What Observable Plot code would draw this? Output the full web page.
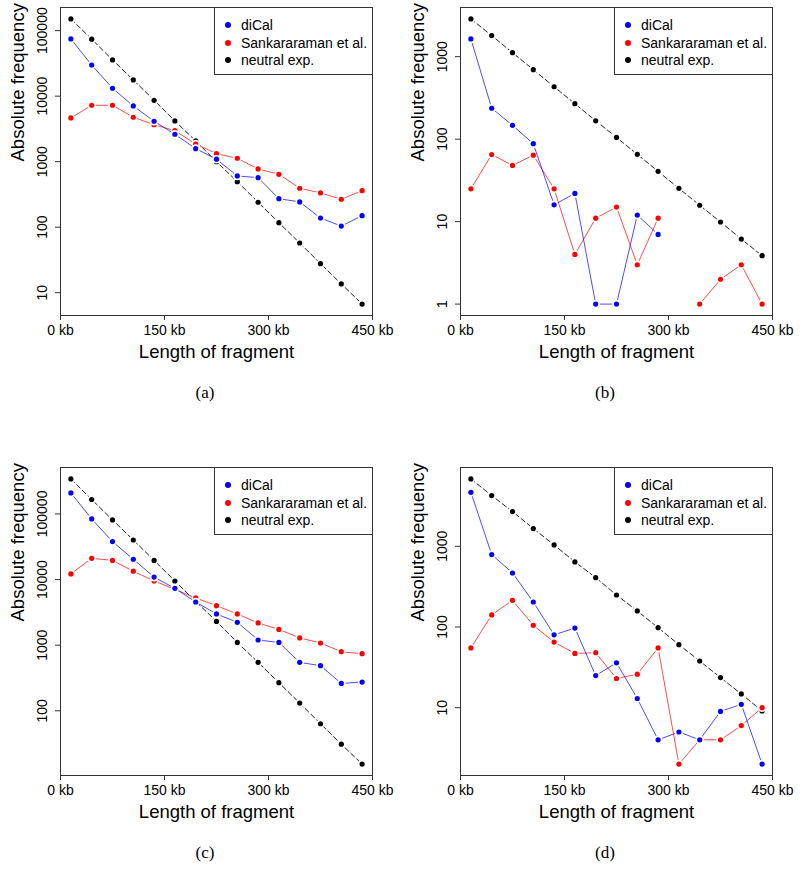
<!DOCTYPE html>
<html>
<head>
<meta charset="utf-8">
<script src="https://cdn.jsdelivr.net/npm/d3@7"></script>
<script src="https://cdn.jsdelivr.net/npm/@observablehq/plot@0.6"></script>
<style>
  body { margin: 0; background: #fff; }
  #wrap { position: relative; width: 800px; height: 869px; overflow: hidden; }
  .panel { position: absolute; width: 400px; height: 409px; }
  .panel svg { position: absolute; left: 0; top: 0; }
  .legend { position: absolute; left: 214px; top: 7px; width: 157px; height: 66px;
            border: 1px solid #333; background: #fff; font-family: "Liberation Sans", Arial, sans-serif; font-size: 14px; }
  .legend .row { position: absolute; left: 0; height: 18px; line-height: 18px; white-space: nowrap; }
  .legend .sw { position: absolute; left: 10px; top: 6px; width: 6px; height: 6px; border-radius: 50%; }
  .legend .lb { position: absolute; left: 26px; top: 0; }
  .caption { position: absolute; left: 0; width: 410px; text-align: center;
             font-family: "Liberation Serif", "DejaVu Serif", serif; font-size: 17px; line-height: 20px; }
</style>
</head>
<body>
<div id="wrap"></div>
<script>
// ---- data ----
const lengthKb = [15, 45, 75, 105, 135, 165, 195, 225, 255, 285, 315, 345, 375, 405, 435];
const xTicks = [0, 150, 300, 450];
const seriesNames = ["diCal", "Sankararaman et al.", "neutral exp."];
const seriesColors = ["#0000ff", "#ff0000", "#000000"];
const panelLabels = ["(a)", "(b)", "(c)", "(d)"];
const xLabel = "Length of fragment";
const yLabel = "Absolute frequency";

// panel (a)
const aDiCal   = [74600, 29900, 13200, 7080, 4140, 2620, 1580, 1090, 605, 570, 272, 243, 138, 104, 150];
const aSank    = [4650, 7260, 7260, 4760, 3670, 2970, 1860, 1325, 1127, 774, 642, 393, 333, 267, 361];
const aNeutral = [151000, 74000, 35700, 17700, 8650, 4180, 2070, 1000, 495, 240, 117, 57.4, 27.7, 13.6, 6.7];
const aYTicks  = [10, 100, 1000, 10000, 100000];

// panel (b)
const bDiCal   = [1640, 237, 147, 88, 16, 22, 1, 1, 12, 7, null, null, null, null, null];
const bSank    = [25, 65, 48, 64, 25, 4, 11, 15, 3, 11, null, 1, 2, 3, 1];
const bNeutral = [2870, 1800, 1118, 696, 432, 269, 167, 105, 65.4, 40.7, 25.3, 15.8, 9.9, 6.15, 3.86];
const bYTicks  = [1, 10, 100, 1000];

// panel (c)
const cDiCal   = [209000, 83900, 37900, 20400, 10900, 7350, 4550, 2990, 2230, 1200, 1100, 547, 487, 261, 274];
const cSank    = [12200, 21100, 19600, 13400, 9510, 7100, 5240, 4000, 2990, 2180, 1740, 1290, 1080, 795, 741];
const cNeutral = [342000, 166000, 81000, 40100, 19600, 9510, 4650, 2300, 1100, 547, 268, 131, 63.4, 31, 15.4];
const cYTicks  = [100, 1000, 10000, 100000];

// panel (d)
const dDiCal   = [4670, 789, 467, 204, 80, 97, 25, 36, 13, 4, 5, 4, 9, 11, 2];
const dSank    = [55, 141, 214, 105, 65, 47, 48, 23, 26, 55, 2, 4, 4, 6, 10];
const dNeutral = [6840, 4250, 2690, 1660, 1040, 640, 409, 249, 158, 98, 60.4, 37.9, 23.6, 14.8, 9.1];
const dYTicks  = [10, 100, 1000];

// ---- layout ----
const panels = [
  {label: panelLabels[0], left: 0,   top: 0,   series: [aDiCal, aSank, aNeutral], yTicks: aYTicks},
  {label: panelLabels[1], left: 400, top: 0,   series: [bDiCal, bSank, bNeutral], yTicks: bYTicks},
  {label: panelLabels[2], left: 0,   top: 460, series: [cDiCal, cSank, cNeutral], yTicks: cYTicks},
  {label: panelLabels[3], left: 400, top: 460, series: [dDiCal, dSank, dNeutral], yTicks: dYTicks}
];

function logDomain(seriesList) {
  const vals = seriesList.flat().filter(v => v != null && v > 0).map(Math.log10);
  const lo = d3.min(vals), hi = d3.max(vals), pad = 0.04 * (hi - lo);
  return [Math.pow(10, lo - pad), Math.pow(10, hi + pad)];
}

function seriesMarks(values, color, dashed) {
  const data = lengthKb.map((x, i) => ({x, y: values[i] == null ? NaN : values[i]}));
  const pts = data.filter(d => !isNaN(d.y));
  return [
    Plot.line(data, {x: "x", y: "y", stroke: color, strokeWidth: 1,
      strokeOpacity: dashed ? 0.85 : 0.7, strokeDasharray: dashed ? "5,3" : null}),
    Plot.dot(pts, {x: "x", y: "y", r: 4.3, fill: "white"}),
    Plot.dot(pts, {x: "x", y: "y", r: 2.6, fill: color})
  ];
}

const wrap = document.getElementById("wrap");

panels.forEach(p => {
  const div = document.createElement("div");
  div.className = "panel";
  div.style.left = p.left + "px";
  div.style.top = p.top + "px";

  const chart = Plot.plot({
    width: 400,
    height: 370,
    marginLeft: 60,
    marginRight: 28,
    marginTop: 7,
    marginBottom: 55,
    style: {fontFamily: "'Liberation Sans', Arial, sans-serif", fontSize: "14px", color: "#000", background: "transparent", overflow: "visible"},
    x: {type: "linear", domain: [0, 450]},
    y: {type: "log", domain: logDomain(p.series)},
    marks: [
      Plot.frame({stroke: "#333"}),
      Plot.axisX(xTicks, {tickSize: 5, tickPadding: 5, tickFormat: d => d + " kb", fontSize: 14, label: null, stroke: "#333"}),
      Plot.axisY(p.yTicks, {tickSize: 5, tickPadding: 8.5, tickRotate: -90, tickFormat: d => String(d), fontSize: 14, label: null, stroke: "#333"}),
      Plot.text([xLabel], {frameAnchor: "bottom", text: d => d, dy: 42.5, lineAnchor: "bottom", fontSize: 18.5}),
      Plot.text([yLabel], {frameAnchor: "left", text: d => d, rotate: -90, dx: -36.5, lineAnchor: "bottom", fontSize: 18.5}),
      ...seriesMarks(p.series[2], seriesColors[2], true),
      ...seriesMarks(p.series[1], seriesColors[1], false),
      ...seriesMarks(p.series[0], seriesColors[0], false)
    ]
  });
  div.appendChild(chart);

  const leg = document.createElement("div");
  leg.className = "legend";
  seriesNames.forEach((name, i) => {
    const row = document.createElement("div");
    row.className = "row";
    row.style.top = (8 + i * 17.7) + "px";
    const sw = document.createElement("span");
    sw.className = "sw";
    sw.style.background = seriesColors[i];
    const lb = document.createElement("span");
    lb.className = "lb";
    lb.textContent = name;
    row.appendChild(sw);
    row.appendChild(lb);
    leg.appendChild(row);
  });
  div.appendChild(leg);

  const cap = document.createElement("div");
  cap.className = "caption";
  cap.style.top = "383px";
  cap.textContent = p.label;
  div.appendChild(cap);

  wrap.appendChild(div);
});
</script>
</body>
</html>
